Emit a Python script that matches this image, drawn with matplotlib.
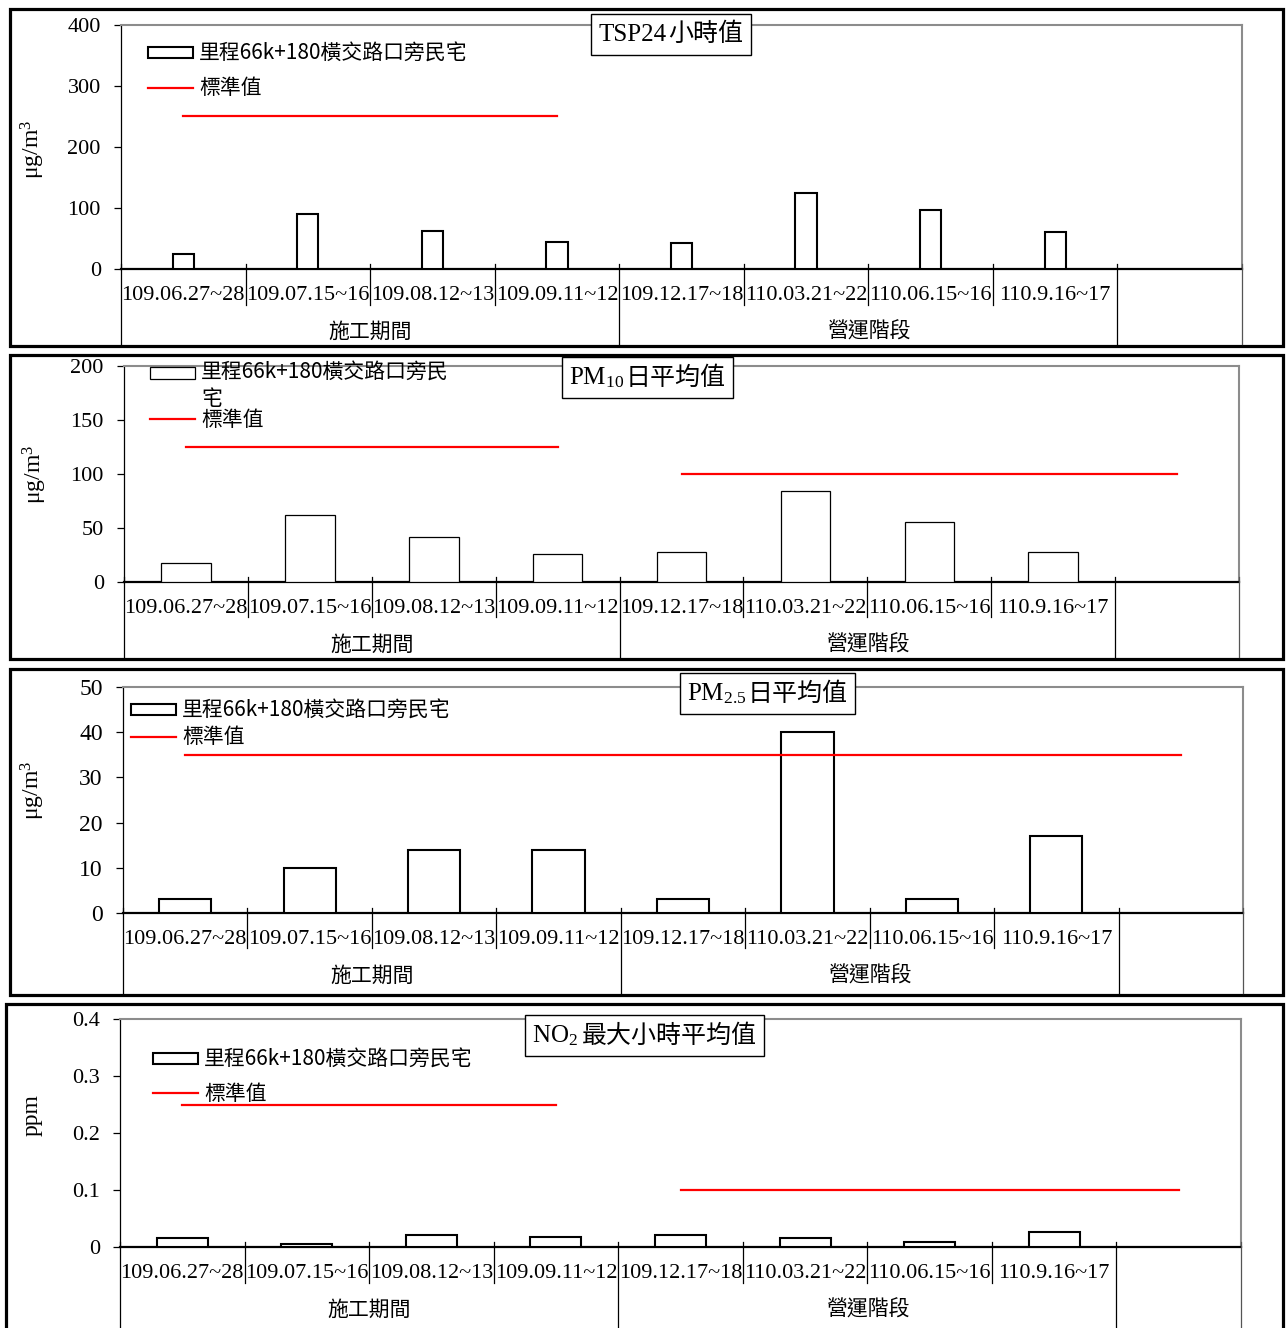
import itertools
import numpy as np
import matplotlib
matplotlib.use("Agg")
import matplotlib.pyplot as plt
from matplotlib.offsetbox import TextArea, HPacker, AnchoredOffsetbox
from matplotlib.patches import Rectangle
from matplotlib.font_manager import FontProperties
from matplotlib.ticker import FuncFormatter
from matplotlib.container import BarContainer
from matplotlib.legend_handler import HandlerPatch, update_from_first_child

# ---------------- data ----------------
categories = ["109.06.27~28", "109.07.15~16", "109.08.12~13", "109.09.11~12",
              "109.12.17~18", "110.03.21~22", "110.06.15~16", "110.9.16~17"]
phases = ["施工期間", "營運階段"]
phase_sizes = [4, 4]
station = "里程66k+180橫交路口旁民宅"
station_wrapped = "里程66k+180橫交路口旁民\n宅"
std_label = "標準值"

tsp = [25, 90, 62, 44, 42, 124, 97, 60]
pm10 = [18, 62, 42, 26, 28, 84, 56, 28]
pm25 = [3, 10, 14, 14, 3, 40, 3, 17]
no2 = [0.015, 0.005, 0.021, 0.018, 0.021, 0.015, 0.009, 0.027]

# standard values per slot (9 slots: 8 categories + trailing empty slot)
nan = np.nan
tsp_std = [250, 250, 250, 250, nan, nan, nan, nan, nan]
pm10_std = [125, 125, 125, 125, 100, 100, 100, 100, 100]
pm25_std = [35, 35, 35, 35, 35, 35, 35, 35, 35]
no2_std = [0.25, 0.25, 0.25, 0.25, 0.1, 0.1, 0.1, 0.1, 0.1]

# ---------------- style ----------------
W, H = 1287, 1328
SERIF = ["Liberation Serif", "DejaVu Serif"]
CJK = ["Noto Sans CJK TC", "DejaVu Sans"]
LEG_FS = 15
plt.rcParams.update({
    "font.family": ["Liberation Serif", "Noto Sans CJK TC", "DejaVu Sans"],
    "mathtext.fontset": "custom",
    "mathtext.rm": "Liberation Serif",
    "mathtext.it": "Liberation Serif:italic",
    "mathtext.bf": "Liberation Serif:bold",
    "mathtext.default": "rm",
})

fig = plt.figure(figsize=(W / 100, H / 100), dpi=100)
fig.patch.set_facecolor("white")


def fxy(x, y):
    return x / W, 1 - y / H


panels = [
    dict(vals=tsp, std=tsp_std, ymax=400, step=100, ylabel="μg/m$^3$",
         title=[("TSP24", SERIF), ("小時值", CJK)],
         ax_px=(121, 25, 1242, 269), frame=(9.5, 9.5, 1282.5, 345.5),
         bw=0.17, blw=1.5, leg=(148, 43), lsp=0.6, title_c=(671, 34),
         ylab=(33, 0.49), sep_b=305, yfs=16, lab=station, lift=0),
    dict(vals=pm10, std=pm10_std, ymax=200, step=50, ylabel="μg/m$^3$",
         title=[("PM$_{10}$", SERIF), ("日平均值", CJK)],
         ax_px=(124, 366, 1239, 582), frame=(9.5, 354.5, 1282.5, 658.5),
         bw=0.40, blw=0.9, leg=(150, 361), lsp=-0.05, title_c=(647.5, 377.5),
         ylab=(35, 0.5), sep_b=617, yfs=16, lab=station_wrapped, lift=9.75),
    dict(vals=pm25, std=pm25_std, ymax=50, step=10, ylabel="μg/m$^3$",
         title=[("PM$_{2.5}$", SERIF), ("日平均值", CJK)],
         ax_px=(123, 687, 1243, 913), frame=(9.5, 668.5, 1282.5, 994.5),
         bw=0.42, blw=1.5, leg=(131, 700), lsp=0.2, title_c=(767.5, 693.5),
         ylab=(33, 0.544), sep_b=948, yfs=17, lab=station, lift=0),
    dict(vals=no2, std=no2_std, ymax=0.4, step=0.1, ylabel="ppm",
         title=[("NO$_2$ ", SERIF), ("最大小時平均值", CJK)],
         ax_px=(120, 1019, 1241, 1247), frame=(5.5, 1004.5, 1282.5, 1340),
         bw=0.41, blw=1.5, leg=(153, 1049), lsp=0.57, title_c=(644.5, 1035.5),
         ylab=(32, 0.579), sep_b=1283, yfs=16, lab=station, lift=0),
]

nslots = len(categories) + 1
x = np.arange(len(categories))


def make_patch_func(lift):
    def func(legend, orig_handle, xdescent, ydescent, width, height, fontsize):
        return Rectangle((-xdescent, -ydescent + lift), width, height)
    return func


for p in panels:
    # outer frame
    x0, y0, x1, y1 = p["frame"]
    fig.add_artist(Rectangle(fxy(x0, y1), (x1 - x0) / W, (y1 - y0) / H,
                             transform=fig.transFigure, fill=False,
                             edgecolor="black", lw=2.3, zorder=0))

    l, t, r, b = p["ax_px"]
    ax = fig.add_axes([l / W, 1 - b / H, (r - l) / W, (b - t) / H])
    hpx = b - t
    ax.set_xlim(-0.5, nslots - 0.5)
    ax.set_ylim(0, p["ymax"])

    bars = ax.bar(x, p["vals"], width=p["bw"], color="white", edgecolor="black",
                  lw=p["blw"], label=p["lab"], zorder=3)

    std = p["std"]
    std_handle = None
    idx = 0
    for val, grp in itertools.groupby(std, key=lambda v: None if np.isnan(v) else v):
        n = len(list(grp))
        if val is not None:
            xs = np.arange(idx, idx + n)
            ln, = ax.plot(xs, std[idx:idx + n], color="red", lw=1.6, zorder=4)
            if std_handle is None:
                std_handle = ln
        idx += n

    # spines
    for s in ["top", "right"]:
        ax.spines[s].set_color("#8c8c8c")
        ax.spines[s].set_linewidth(1.5)
    ax.spines["left"].set_color("black")
    ax.spines["left"].set_linewidth(0.9)
    ax.spines["bottom"].set_color("black")
    ax.spines["bottom"].set_linewidth(1.6)

    ticks = np.arange(0, p["ymax"] + p["step"] / 2, p["step"])
    ax.set_yticks(ticks)
    ax.yaxis.set_major_formatter(FuncFormatter(lambda v, pos: f"{round(v, 3):g}"))
    ax.tick_params(axis="y", direction="out", length=5, width=0.9,
                   labelsize=p["yfs"], pad=9.5)
    ax.set_xticks(x)
    ax.set_xticklabels(categories, fontsize=16, family=SERIF)
    ax.tick_params(axis="x", length=0, pad=12.5)

    ax.set_ylabel(p["ylabel"], fontsize=17, family=SERIF, va="center")
    ax.yaxis.set_label_coords((p["ylab"][0] - l) / (r - l), p["ylab"][1])

    # category separators
    tr = ax.get_xaxis_transform()
    bounds = np.cumsum([0] + phase_sizes)
    group_bounds = set(list(bounds) + [nslots])
    fb = p["frame"][3]
    for k in range(nslots + 1):
        xb = k - 0.5
        ytop = 5 / hpx
        if k in group_bounds:
            ybot = -(min(fb, H + 2) - 1.5 - b) / hpx
        else:
            ybot = -(p["sep_b"] - b) / hpx
        col = "black" if k < nslots else "#555555"
        ax.plot([xb, xb], [ytop, ybot], transform=tr, clip_on=False,
                color=col, lw=0.9, zorder=5)

    # phase labels
    for i, ph in enumerate(phases):
        cx = (bounds[i] + bounds[i + 1]) / 2 - 0.5
        ax.annotate(ph, xy=(cx, 0), xycoords=("data", "axes fraction"),
                    xytext=(0, -63 * 0.72), textcoords="offset points",
                    ha="center", va="center", fontsize=15, family=CJK)

    # legend
    lx, ly = fxy(*p["leg"])
    hmap = {}
    if p["lift"]:
        hmap = {BarContainer: HandlerPatch(patch_func=make_patch_func(p["lift"]),
                                           update_func=update_from_first_child)}
    leg = ax.legend([bars, std_handle], [p["lab"], std_label],
                    loc="upper left", bbox_to_anchor=(lx, ly),
                    bbox_transform=fig.transFigure, frameon=False,
                    prop=FontProperties(family=CJK, size=LEG_FS),
                    handlelength=2.16, handleheight=0.47, handletextpad=0.29,
                    labelspacing=p["lsp"], borderpad=0, borderaxespad=0,
                    handler_map=hmap)
    for txt in leg.get_texts():
        txt.set_linespacing(1.3)
    leg.set_zorder(6)

    # title box
    children = [TextArea(s, textprops=dict(family=fam, size=18)) for s, fam in p["title"]]
    pack = HPacker(children=children, align="baseline", pad=0, sep=1)
    tx, ty = fxy(*p["title_c"])
    ab = AnchoredOffsetbox(loc="center", child=pack, bbox_to_anchor=(tx, ty),
                           bbox_transform=fig.transFigure, frameon=True,
                           pad=0.3, borderpad=0, prop=dict(size=18))
    ab.patch.set_edgecolor("black")
    ab.patch.set_facecolor("white")
    ab.patch.set_linewidth(1.0)
    ab.patch.set_boxstyle("square", pad=0)
    ab.set_zorder(7)
    fig.add_artist(ab)

fig.savefig("out.png", dpi=100, facecolor="white")
